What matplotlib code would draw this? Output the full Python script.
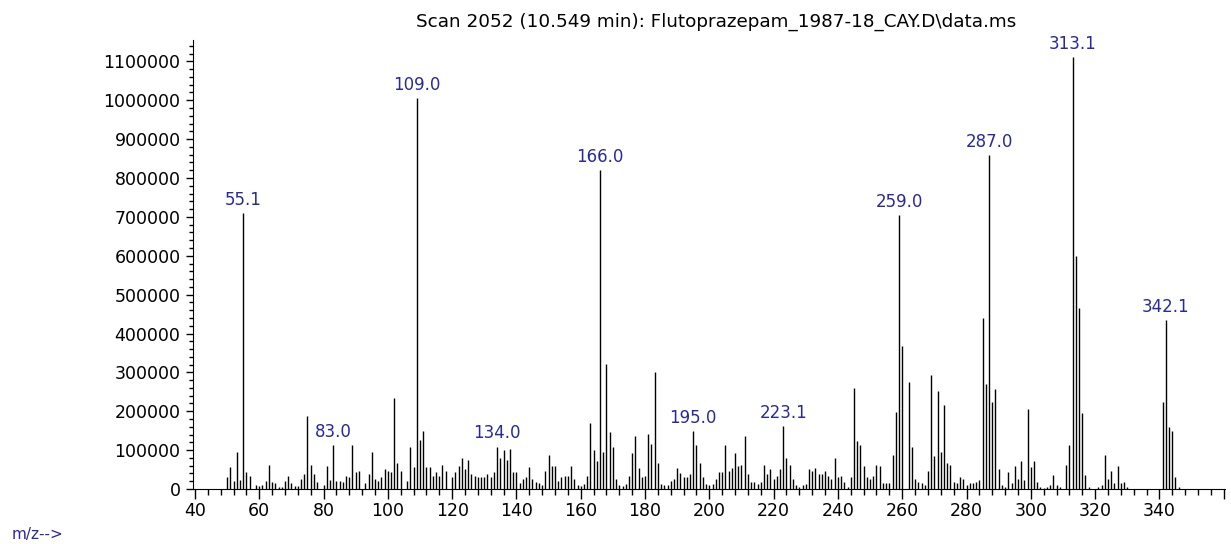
import matplotlib
matplotlib.use('Agg')
import matplotlib.pyplot as plt
from matplotlib.ticker import MultipleLocator

# m/z values and abundances
mz = list(range(50, 347))
abundance = [
    30000, 56000, 21000, 96000, 23000, 710000, 45000, 33000, 0, 9500,          # 50-59
    7000, 10000, 21000, 63000, 19000, 15000, 6000, 6000, 21000, 34000,         # 60-69
    15000, 7000, 7000, 26000, 38000, 189000, 63000, 38000, 19000, 0,           # 70-79
    10000, 59000, 23000, 112000, 21000, 21000, 19000, 34000, 30000, 112000,    # 80-89
    43000, 47000, 0, 15000, 38000, 96000, 26000, 21000, 30000, 51000,          # 90-99
    47000, 43000, 235000, 68000, 47000, 0, 21000, 109000, 56000, 1005000,      # 100-109
    125000, 149000, 56000, 56000, 34000, 43000, 34000, 63000, 47000, 0,        # 110-119
    30000, 43000, 59000, 80000, 51000, 75000, 38000, 34000, 30000, 30000,      # 120-129
    30000, 38000, 30000, 43000, 109000, 80000, 100000, 75000, 104000, 43000,   # 130-139
    43000, 16000, 26000, 30000, 56000, 26000, 19000, 15000, 9500, 47000,       # 140-149
    88000, 59000, 59000, 21000, 30000, 34000, 34000, 59000, 26000, 9500,       # 150-159
    7000, 14000, 34000, 170000, 100000, 71000, 820000, 96000, 322000, 146000,  # 160-169
    109000, 26000, 9500, 7000, 14000, 34000, 92000, 137000, 55000, 30000,      # 170-179
    34000, 141000, 117000, 302000, 68000, 14000, 9500, 9500, 21000, 26000,     # 180-189
    55000, 42000, 30000, 30000, 38000, 149000, 112000, 68000, 30000, 14000,    # 190-199
    9500, 14000, 26000, 43000, 43000, 112000, 46000, 55000, 92000, 59000,      # 200-209
    63000, 137000, 38000, 18000, 18000, 14000, 18000, 63000, 38000, 51000,     # 210-219
    26000, 34000, 51000, 161000, 80000, 63000, 26000, 9500, 5000, 9500,        # 220-229
    14000, 51000, 46000, 55000, 38000, 38000, 46000, 34000, 26000, 80000,      # 230-239
    30000, 34000, 18000, 5000, 30000, 260000, 124000, 112000, 59000, 30000,    # 240-249
    27000, 34000, 63000, 59000, 15000, 15000, 15000, 88000, 199000, 705000,    # 250-259
    367000, 0, 276000, 109000, 26000, 19000, 15000, 10000, 47000, 293000,      # 260-269
    84000, 252000, 96000, 216000, 68000, 63000, 19000, 15000, 30000, 27000,    # 270-279
    10000, 15000, 15000, 19000, 23000, 440000, 270000, 860000, 224000, 257000, # 280-289
    51000, 10000, 6000, 43000, 15000, 59000, 27000, 72000, 23000, 207000,      # 290-299
    56000, 72000, 19000, 6000, 3000, 6000, 10000, 35000, 10000, 6000,          # 300-309
    0, 63000, 113000, 1110000, 600000, 465000, 195000, 35000, 6000, 0,         # 310-319
    0, 6000, 10000, 88000, 27000, 47000, 15000, 59000, 15000, 19000,           # 320-329
    6000, 0, 0, 0, 0, 0, 0, 0, 0, 0,                                           # 330-339
    0, 224000, 435000, 159000, 150000, 31000, 6000,                            # 340-346
]

label_mz = [55, 83, 109, 134, 166, 195, 223, 259, 287, 313, 342]
label_text = ['55.1', '83.0', '109.0', '134.0', '166.0', '195.0', '223.1',
              '259.0', '287.0', '313.1', '342.1']

y_ticks = list(range(0, 1100001, 100000))
x_ticks = list(range(40, 361, 20))
x_labels = [str(v) if v <= 340 else '' for v in x_ticks]

title = 'Scan 2052 (10.549 min): Flutoprazepam_1987-18_CAY.D\\data.ms'
label_color = '#2828a0'

fig = plt.figure(figsize=(12.31, 5.44), dpi=100)
ax = fig.add_axes([193 / 1231, 1 - 489 / 544, (1225 - 193) / 1231, (489 - 40) / 544])

ax.vlines(mz, 0, abundance, colors='black', linewidth=1.0)

for m, t in zip(label_mz, label_text):
    h = abundance[mz.index(m)]
    ax.annotate(t, (m, h), xytext=(0, 3), textcoords='offset points',
                ha='center', va='bottom', color=label_color, fontsize=12,
                annotation_clip=False)

ax.set_xlim(39.4, 360.4)
ax.set_ylim(0, 1155000)

ax.set_xticks(x_ticks)
ax.set_xticklabels(x_labels)
ax.xaxis.set_minor_locator(MultipleLocator(4))
ax.set_yticks(y_ticks)
ax.set_yticklabels([str(v) for v in y_ticks])
ax.yaxis.set_minor_locator(MultipleLocator(20000))

ax.tick_params(axis='x', which='major', length=7, width=1, pad=2, labelsize=12.5)
ax.tick_params(axis='x', which='minor', length=4, width=1)
ax.tick_params(axis='y', which='major', length=5, width=1, pad=4, labelsize=12.5)
ax.tick_params(axis='y', which='minor', length=3, width=1)

ax.spines['top'].set_visible(False)
ax.spines['right'].set_visible(False)

fig.text(716 / 1231, 1 - 22 / 544, title, ha='center', va='center', fontsize=13.2)
fig.text(12 / 1231, 1 - 535 / 544, 'm/z-->', ha='left', va='center',
         color=label_color, fontsize=11)

fig.savefig('out.png', dpi=100)
